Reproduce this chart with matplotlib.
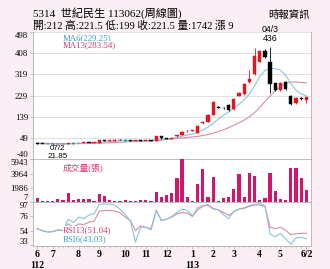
import matplotlib
matplotlib.use("Agg")
import matplotlib.pyplot as plt
import numpy as np

# ---------------- data ----------------
opens  = [27, 26, 25, 24, 23, 24, 26, 29, 28, 30, 30, 29.5, 31, 41, 38, 39, 44, 41, 40, 39.5, 40, 39, 40, 39, 57,
          50, 48, 57, 64, 78, 82, 73, 112, 120, 148, 181, 178, 190, 171, 229, 236, 286, 321, 373, 419, 373, 281, 253, 287, 228, 197, 220.5, 212]
highs  = [28, 27, 26, 25, 25, 27, 30, 30, 31, 31, 31, 31, 43, 42, 40, 46, 45, 42, 41, 41, 41, 41, 42, 60, 59,
          52, 52, 65, 78, 86, 86, 104, 122, 150, 205, 186, 182, 196, 218, 244, 282, 338, 429, 424, 425, 436, 284, 288, 292, 230, 222, 224, 221.5]
lows   = [25, 24, 23, 22, 21.85, 23.5, 25.5, 27, 27.5, 29, 29, 29, 30.5, 37, 37, 38.5, 40, 39, 38.5, 38, 38, 38, 38, 38.5, 48,
          46, 47, 54, 63, 76, 80, 72, 110, 118, 146, 176, 172, 165, 168, 226, 234, 283, 318, 370, 388, 240, 250, 249, 255, 188, 194, 210, 199]
closes = [26, 25, 24, 23.5, 24, 26, 29, 28, 30.5, 30, 29.5, 30.5, 41, 38, 39, 44, 41, 40, 39.5, 40, 39, 40, 39, 57, 50,
          48, 50, 63, 77, 82, 84, 101, 119, 147, 201, 179, 176, 169, 215, 239, 278, 298, 397, 418, 394, 277, 253, 281, 256, 194, 218, 217, 221.5]
ma6    = [27, 26.5, 26, 25, 24.5, 24.5, 25.5, 26.5, 27.5, 28.5, 29, 29.5, 31.5, 33, 35, 37.5, 39, 40, 40, 40.5, 40.5, 40, 39.5, 42, 44,
          47, 49, 53, 58, 63, 67, 74, 84, 96, 112, 130, 146, 160, 175, 193, 212, 236, 270, 310, 335, 345, 343, 337, 315, 281, 252, 236, 229.25]
ma13   = [29, 28.5, 28, 27.5, 27, 26.5, 26.5, 26.5, 26.5, 27, 27, 27.5, 28.5, 29.5, 30.5, 31.5, 32.5, 33.5, 34.5, 35.5, 36.5, 37.5, 38, 39.5, 41,
          44, 46, 49, 51, 53, 55, 57, 61, 65, 71, 78, 85, 94, 104, 115, 126, 140, 157, 180, 204, 228, 250, 267, 281, 287, 287, 285, 283.54]
volume = [553, 184, 184, 184, 460, 322, 1244, 322, 460, 415, 460, 230, 1106, 829, 322, 230, 230, 322, 184, 230, 322, 322, 230, 1382, 691,
          1013, 1244, 3317, 5943, 691, 230, 2534, 4561, 691, 3547, 230, 645, 783, 1889, 3916, 783, 4008, 3640, 322, 645, 4008, 1520, 507, 322, 4699, 4699, 3317, 1742]
rsi6   = [58, 55, 53, 53.5, 56, 55, 72, 67, 75, 73, 78, 80, 94, 94.5, 94.5, 93, 87, 79, 70, 38, 60, 60, 56, 85, 70,
          72, 76, 82, 87, 85, 77, 89, 92, 94, 88, 86, 78.5, 72.6, 84, 87, 89, 92, 94, 95, 92, 50, 46, 51, 43, 35, 44, 45, 43.03]
rsi13  = [58, 55, 53, 53.5, 56, 55.5, 65, 60, 65, 64, 67.5, 69, 84, 85, 85, 84, 82, 75, 70, 55, 62, 60, 58, 85, 70,
          72, 75, 80, 82, 81, 76, 86, 91, 93, 87, 86, 82, 77.5, 83, 87, 88, 91, 93, 93, 91, 60, 58, 60, 55.5, 49, 50.5, 51, 51.04]

month_pos = [0, 3, 8, 12, 17, 21, 25, 30, 34, 38, 43, 47, 52]
month_lab = ["6", "7", "8", "9", "10", "11", "12", "1", "2", "3", "4", "5", "6/2"]
price_ticks = [-40, 49, 139, 229, 319, 408, 498]
vol_ticks = [7, 1986, 3964, 5943]
rsi_ticks = [33, 54, 76, 97]

# ---------------- style ----------------
SERIF = ['Liberation Serif', 'Noto Sans CJK TC']
BG = '#fbeef4'
RED = '#e3161d'
MAG = '#d5156b'
BLUE_L = '#86c6dc'
PINK_L = '#d98aa8'
GRID = '#dcdcdc'
SPINE = '#b0b0b0'

W, H = 330, 269
fig = plt.figure(figsize=(W / 100, H / 100), dpi=100, facecolor=BG)

def ax_rect(y_top, y_bot, x_l=33, x_r=311):
    return [x_l / W, 1 - y_bot / H, (x_r - x_l) / W, (y_bot - y_top) / H]

ax_p = fig.add_axes(ax_rect(32, 159.4))
ax_v = fig.add_axes(ax_rect(159.4, 202.3))
ax_r = fig.add_axes(ax_rect(202.3, 245.5))

n = len(closes)
x = np.arange(n)
xlim = (-0.8, 52.9)

for ax in (ax_p, ax_v, ax_r):
    ax.set_facecolor('white')
    ax.set_xlim(*xlim)
    for s in ax.spines.values():
        s.set_color(SPINE)
        s.set_linewidth(0.6)
    ax.tick_params(axis='y', length=2, width=0.5, color=SPINE, pad=1.5, labelsize=6.3)
    ax.tick_params(axis='x', length=0)
    ax.set_xticks([])

# ---- price panel ----
ax_p.set_ylim(-40, 498)
ax_p.set_yticks(price_ticks)
ax_p.set_yticklabels([str(t) for t in price_ticks], family=SERIF, fontsize=6.3)
ax_p.grid(axis='y', color=GRID, linewidth=0.6)
ax_p.set_axisbelow(True)
ax_p.spines['top'].set_visible(False)
ax_p.spines['bottom'].set_visible(False)

ax_p.plot(x, ma13, color=PINK_L, lw=0.8, zorder=2)
ax_p.plot(x, ma6, color=BLUE_L, lw=0.8, zorder=2)

for i in range(n):
    o, h, l, c = opens[i], highs[i], lows[i], closes[i]
    col = RED if c >= o else 'black'
    ax_p.vlines(i, l, h, color=col, lw=0.6, zorder=3)
    body = max(abs(c - o), 2.5)
    ax_p.bar(i, body, bottom=min(o, c), width=0.62, color=col, edgecolor=col, lw=0.3, zorder=4)

ax_p.text(45, 452, "436", ha='center', va='bottom', fontsize=6.3, family=['Liberation Sans'])
ax_p.text(45, 489, "04/3", ha='center', va='bottom', fontsize=6.3, family=['Liberation Sans'])
ax_p.text(4, 7, "07/2", ha='center', va='center', fontsize=5.8, family=['Liberation Sans'], zorder=6)
ax_p.text(4, -27, "21.85", ha='center', va='center', fontsize=5.8, family=['Liberation Sans'], zorder=6)

ax_p.text(0.108, 0.985, "MA6(229.25)", transform=ax_p.transAxes, color='#3b9cc6', fontsize=6.3,
          family=SERIF, va='top', ha='left', bbox=dict(facecolor='white', edgecolor='none', pad=0.3))
ax_p.text(0.108, 0.925, "MA13(283.54)", transform=ax_p.transAxes, color='#dd3474', fontsize=6.3,
          family=SERIF, va='top', ha='left', bbox=dict(facecolor='white', edgecolor='none', pad=0.3))

# ---- volume panel ----
ax_v.bar(x, volume, width=0.62, color=MAG, zorder=3)
ax_v.set_ylim(7, 5943)
ax_v.set_yticks(vol_ticks)
ax_v.set_yticklabels([str(t) for t in vol_ticks], family=SERIF, fontsize=6.3)
ax_v.text(0.108, 0.9, "成交量(張)", transform=ax_v.transAxes, color='#dd3474', fontsize=6.3,
          family=SERIF, va='top', ha='left')

# ---- RSI panel ----
ax_r.plot(x, rsi13, color=PINK_L, lw=0.8)
ax_r.plot(x, rsi6, color=BLUE_L, lw=0.8)
ax_r.set_ylim(33, 97)
ax_r.set_yticks(rsi_ticks)
ax_r.set_yticklabels([str(t) for t in rsi_ticks], family=SERIF, fontsize=6.3)
ax_r.text(0.108, 0.36, "RSI13(51.04)", transform=ax_r.transAxes, color='#dd3474', fontsize=6.3,
          family=SERIF, va='center', ha='left', bbox=dict(facecolor='white', edgecolor='none', pad=0.2))
ax_r.text(0.108, 0.14, "RSI6(43.03)", transform=ax_r.transAxes, color='#3b9cc6', fontsize=6.3,
          family=SERIF, va='center', ha='left', bbox=dict(facecolor='white', edgecolor='none', pad=0.2))
ax_r.set_xticks(month_pos)
ax_r.set_xticklabels(month_lab, family=SERIF, fontsize=7, fontweight='bold')
ax_r.set_xticks(x, minor=True)
ax_r.tick_params(axis='x', which='major', length=2, width=0.5, color=SPINE, pad=1.5)
ax_r.tick_params(axis='x', which='minor', length=1.2, width=0.4, color=SPINE)
ax_r.text(0, -0.37, "112", transform=ax_r.get_xaxis_transform(), ha='center', va='top',
          fontsize=7, family=SERIF, fontweight='bold')
ax_r.text(30, -0.37, "113", transform=ax_r.get_xaxis_transform(), ha='center', va='top',
          fontsize=7, family=SERIF, fontweight='bold')

# edge tick labels pushed inside the panel
for ax in (ax_p, ax_v, ax_r):
    labels = ax.get_yticklabels()
    labels[0].set_va('bottom')
    labels[-1].set_va('top')

# ---- header ----
fig.text(33 / W, 1 - 13 / H, "5314  世紀民生 113062(周線圖)", fontsize=8, family=SERIF, va='center', ha='left')
fig.text(33 / W, 1 - 25.5 / H, "開:212 高:221.5 低:199 收:221.5 量:1742 漲 9", fontsize=7.7, family=SERIF,
         va='center', ha='left')
fig.text(310 / W, 1 - 15 / H, "時報資訊", fontsize=7.5, family=SERIF, va='center', ha='right')

fig.savefig("out.png", dpi=100, facecolor=BG)
